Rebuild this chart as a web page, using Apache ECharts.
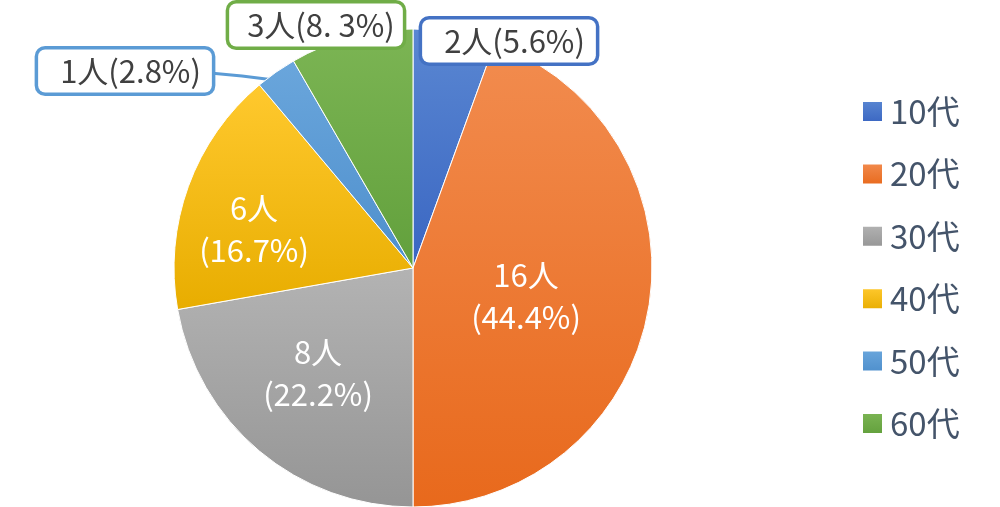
<!DOCTYPE html>
<html>
<head>
<meta charset="utf-8">
<script src="https://cdn.jsdelivr.net/npm/echarts@6/dist/echarts.min.js"></script>
<style>
html,body{margin:0;padding:0;background:#fff;}
#chart{width:1000px;height:507px;}
</style>
</head>
<body>
<div id="chart"></div>
<script>
// Data
const categories = ['10代', '20代', '30代', '40代', '50代', '60代'];
const counts = [2, 16, 8, 6, 1, 3];
const pctLabels = ['5.6%', '44.4%', '22.2%', '16.7%', '2.8%', '8. 3%'];

// Styles
const topColors = ['#5a87d2', '#f28c4f', '#b3b3b3', '#ffc92e', '#6aa6dc', '#7cb554'];
const bottomColors = ['#3a66c2', '#e8691c', '#959595', '#e8ad00', '#4e8fcc', '#62a03c'];
const borderColors = ['#4472c4', '#ed7d31', '#a5a5a5', '#ffc000', '#5b9bd5', '#70ad47'];
const outside = [true, false, false, false, true, true];
const labelPos = [[509, 41], [526, 296], [318, 373], [254, 229], [125, 71], [316, 25]];
const boxPadding = [[5, 11, 5, 22], null, null, null, [5, 11, 5, 22], [5, 8, 5, 18]];

const FONT = '"Noto Sans CJK JP", "Noto Sans", sans-serif';

const data = categories.map((c, i) => {
  const grad = new echarts.graphic.LinearGradient(0, 0, 0, 1, [
    { offset: 0, color: topColors[i] },
    { offset: 1, color: bottomColors[i] }
  ]);
  const item = {
    name: c,
    value: counts[i],
    itemStyle: { color: grad },
    labelLine: { show: i === 4, lineStyle: { color: borderColors[i], width: 3 }, smooth: false }
  };
  if (outside[i]) {
    item.label = {
      position: 'outside',
      formatter: counts[i] + '人(' + pctLabels[i] + ')',
      color: '#404040',
      fontSize: 31,
      lineHeight: 33,
      fontFamily: FONT,
      backgroundColor: '#ffffff',
      borderColor: borderColors[i],
      borderWidth: 3.5,
      borderRadius: 7,
      padding: boxPadding[i]
    };
  } else {
    item.label = {
      position: 'inside',
      formatter: counts[i] + '人\n(' + pctLabels[i] + ')',
      color: '#ffffff',
      fontSize: 31,
      lineHeight: 42,
      fontFamily: FONT
    };
  }
  return item;
});

const chart = echarts.init(document.getElementById('chart'), null, { renderer: 'canvas' });
chart.setOption({
  backgroundColor: '#ffffff',
  animation: false,
  legend: {
    orient: 'vertical',
    left: 861,
    top: 95,
    padding: 0,
    itemWidth: 21,
    itemHeight: 21,
    itemGap: 29.4,
    icon: 'rect',
    data: categories,
    textStyle: {
      color: '#44546a',
      fontSize: 33,
      lineHeight: 32,
      fontFamily: FONT,
      padding: [0, 0, 0, 2]
    }
  },
  series: [{
    type: 'pie',
    center: [413, 268],
    radius: 239,
    startAngle: 90,
    clockwise: true,
    avoidLabelOverlap: false,
    itemStyle: { borderColor: '#ffffff', borderWidth: 1 },
    emphasis: { disabled: true },
    label: { show: true },
    labelLayout: function (params) {
      const i = params.dataIndex;
      const p = labelPos[i];
      const res = { x: p[0], y: p[1], align: 'center', verticalAlign: 'middle' };
      if (i === 4) {
        res.labelLinePoints = [[210, 73], [242, 76], [274, 80]];
      }
      return res;
    },
    data: data
  }]
});
</script>
</body>
</html>
